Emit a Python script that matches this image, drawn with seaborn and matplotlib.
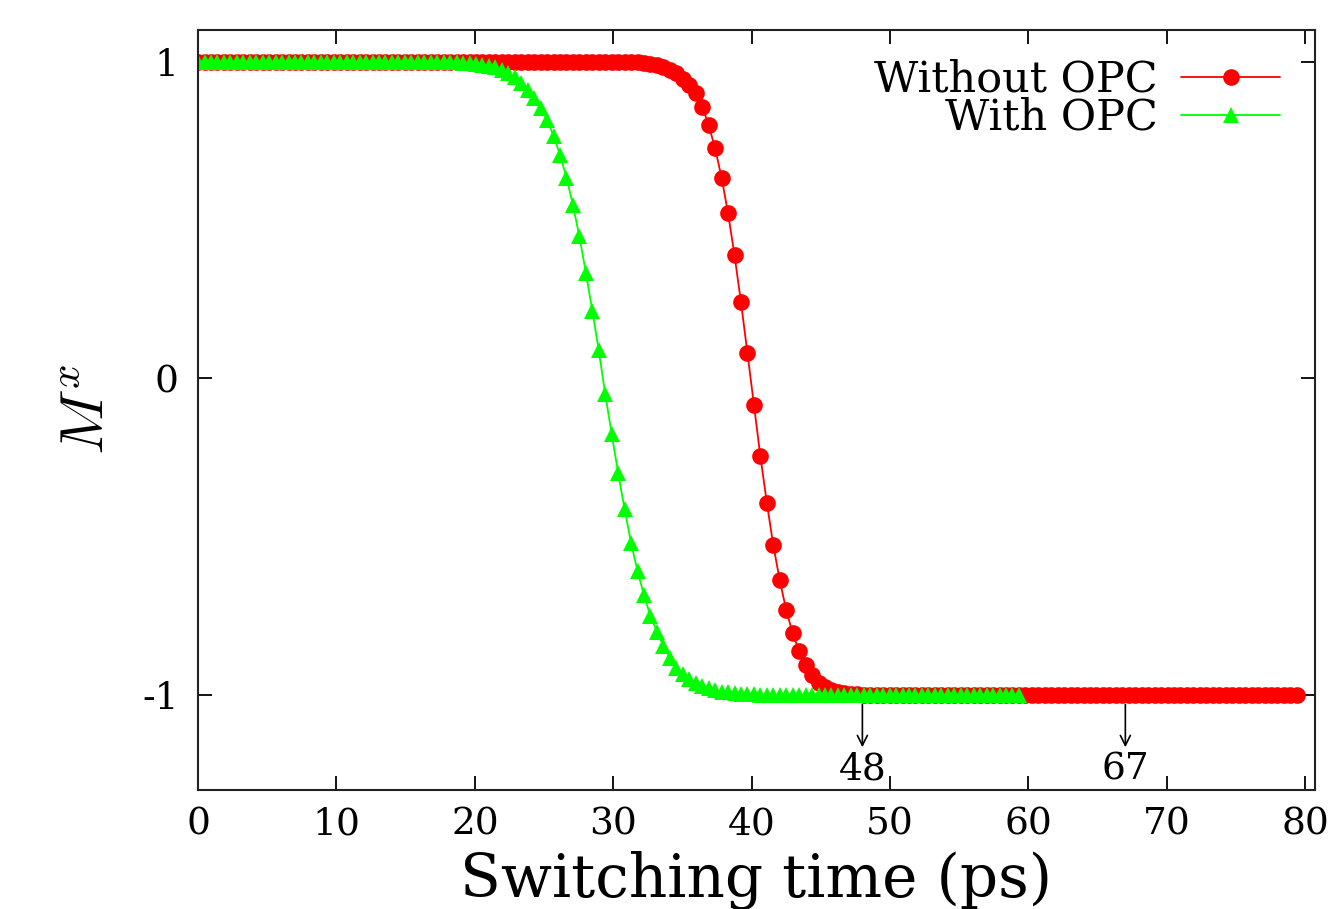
import matplotlib
matplotlib.use("Agg")
import matplotlib.pyplot as plt
import seaborn as sns
import numpy as np
import pandas as pd

# sample step of the simulation output (ps)
dt = 0.467

# Mx without OPC (one value per output step)
mx_without = ([1.0] * 67 +
              [0.999, 0.998, 0.996, 0.993, 0.989, 0.983, 0.975, 0.963, 0.945,
               0.927, 0.900, 0.858, 0.800, 0.726, 0.634, 0.521, 0.389, 0.240,
               0.080, -0.084, -0.246, -0.393, -0.527, -0.638, -0.732, -0.805,
               -0.861, -0.905, -0.937, -0.961, -0.975, -0.984, -0.990, -0.994,
               -0.996, -0.998, -0.999] +
              [-1.0] * 67)

# Mx with OPC
mx_with = ([1.0] * 39 +
           [0.999, 0.998, 0.997, 0.996, 0.994, 0.991, 0.987, 0.982,
            0.974, 0.963, 0.950, 0.934, 0.911, 0.884, 0.853, 0.816, 0.766,
            0.706, 0.634, 0.548, 0.448, 0.334, 0.214, 0.088, -0.050, -0.176,
            -0.299, -0.414, -0.520, -0.609, -0.685, -0.751, -0.800, -0.845,
            -0.882, -0.914, -0.935, -0.950, -0.963, -0.972, -0.979, -0.985,
            -0.989, -0.992, -0.994, -0.996, -0.997, -0.998, -0.999] +
           [-1.0] * 40)

t_without = np.arange(len(mx_without)) * dt
t_with = np.arange(len(mx_with)) * dt

# switching times marked with arrows
switch_times = [48, 67]

sns.set_style("ticks")
plt.rcParams['font.family'] = ['DejaVu Serif']
plt.rcParams['mathtext.fontset'] = 'cm'
plt.rcParams['axes.unicode_minus'] = False
plt.rcParams['text.color'] = 'black'
plt.rcParams['axes.labelcolor'] = 'black'
plt.rcParams['xtick.color'] = 'black'
plt.rcParams['ytick.color'] = 'black'

fig = plt.figure(figsize=(13.3, 9.09), dpi=100)
ax = fig.add_axes([0.1489, 0.1309, 0.8398, 0.8361])

sns.lineplot(x=t_without, y=mx_without, ax=ax, color='#ff0000', marker='o',
             markersize=12, markeredgewidth=0, linewidth=1.3,
             estimator=None, sort=False, label='Without OPC')
sns.lineplot(x=t_with, y=mx_with, ax=ax, color='#00ff00', marker='^',
             markersize=11.5, markeredgewidth=0, linewidth=1.3,
             estimator=None, sort=False, label='With OPC')

for ts in switch_times:
    ax.annotate('', xy=(ts, -1.165), xytext=(ts, -1.03),
                arrowprops=dict(arrowstyle='->', lw=1.2, color='black',
                                shrinkA=0, shrinkB=0, mutation_scale=18))
    ax.text(ts, -1.235, str(ts), ha='center', va='center', fontsize=27)

ax.set_xlim(0, 80.7)
ax.set_ylim(-1.3, 1.1)
ax.set_xticks(range(0, 81, 10))
ax.set_yticks([-1, 0, 1])
ax.tick_params(direction='in', top=True, right=True, length=10, width=1.3,
               labelsize=27)
ax.tick_params(axis='x', pad=12)
ax.tick_params(axis='y', pad=14)
for s in ax.spines.values():
    s.set_linewidth(1.5)
    s.set_color('#222222')

ax.set_xlabel('Switching time (ps)', fontsize=43, labelpad=6)
ax.set_ylabel('$M^x$', fontsize=44, labelpad=18)

ax.legend(loc='upper right', bbox_to_anchor=(0.969, 0.962), frameon=False,
          markerfirst=False, fontsize=31, labelspacing=-0.1, handlelength=2.3,
          handletextpad=0.55, borderpad=0, borderaxespad=0)

plt.savefig('out.png', dpi=100)
